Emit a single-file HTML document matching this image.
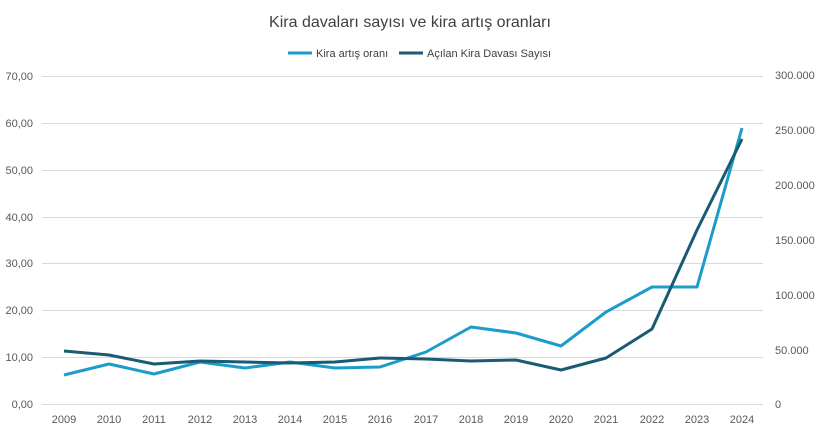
<!DOCTYPE html>
<html><head><meta charset="utf-8"><style>
body{margin:0;background:#fff;}
svg{display:block;font-family:"Liberation Sans",sans-serif;}
</style></head><body>
<svg width="820" height="433" viewBox="0 0 820 433">
<rect width="820" height="433" fill="#fff"/>
<text x="410" y="27" text-anchor="middle" font-size="16" fill="#404040">Kira davaları sayısı ve kira artış oranları</text>
<line x1="288" y1="53" x2="312" y2="53" stroke="#1b9ccb" stroke-width="3"/>
<text x="316" y="57" font-size="11" fill="#404040">Kira artış oranı</text>
<line x1="399" y1="53" x2="423" y2="53" stroke="#1a5a73" stroke-width="3"/>
<text x="427" y="57" font-size="11" fill="#404040">Açılan Kira Davası Sayısı</text>
<g stroke="#d9d9d9" stroke-width="1">
<line x1="42" y1="76.5" x2="763" y2="76.5"/><line x1="42" y1="123.5" x2="763" y2="123.5"/>
<line x1="42" y1="170.5" x2="763" y2="170.5"/><line x1="42" y1="217.5" x2="763" y2="217.5"/>
<line x1="42" y1="263.5" x2="763" y2="263.5"/><line x1="42" y1="310.5" x2="763" y2="310.5"/>
<line x1="42" y1="357.5" x2="763" y2="357.5"/><line x1="42" y1="404.5" x2="763" y2="404.5"/>
</g>
<g font-size="11" fill="#595959" text-anchor="end">
<text x="33" y="80">70,00</text><text x="33" y="127">60,00</text><text x="33" y="174">50,00</text>
<text x="33" y="221">40,00</text><text x="33" y="267">30,00</text><text x="33" y="314">20,00</text>
<text x="33" y="361">10,00</text><text x="33" y="408">0,00</text>
</g>
<g font-size="11" fill="#595959" text-anchor="start">
<text x="775" y="79">300.000</text><text x="775" y="134">250.000</text><text x="775" y="189">200.000</text>
<text x="775" y="244">150.000</text><text x="775" y="299">100.000</text><text x="775" y="354">50.000</text>
<text x="775" y="408">0</text>
</g>
<g font-size="11" fill="#595959" text-anchor="middle">
<text x="64" y="423">2009</text><text x="109" y="423">2010</text><text x="154" y="423">2011</text>
<text x="200" y="423">2012</text><text x="245" y="423">2013</text><text x="290" y="423">2014</text>
<text x="335" y="423">2015</text><text x="380" y="423">2016</text><text x="426" y="423">2017</text>
<text x="471" y="423">2018</text><text x="516" y="423">2019</text><text x="561" y="423">2020</text>
<text x="606" y="423">2021</text><text x="652" y="423">2022</text><text x="697" y="423">2023</text>
<text x="742" y="423">2024</text>
</g>
<polyline fill="none" stroke="#1b9ccb" stroke-width="3" stroke-linejoin="round" points="64,375 109,364 154,374 200,362 245,368 290,362 335,368 380,367 426,352 471,327 516,333 561,346 606,312 652,287 697,287 742,128"/>
<polyline fill="none" stroke="#1a5a73" stroke-width="3" stroke-linejoin="round" points="64,351 109,355 154,364 200,361 245,362 290,363 335,362 380,358 426,359 471,361 516,360 561,370 606,358 652,329 697,230 742,139"/>
</svg>
</body></html>
